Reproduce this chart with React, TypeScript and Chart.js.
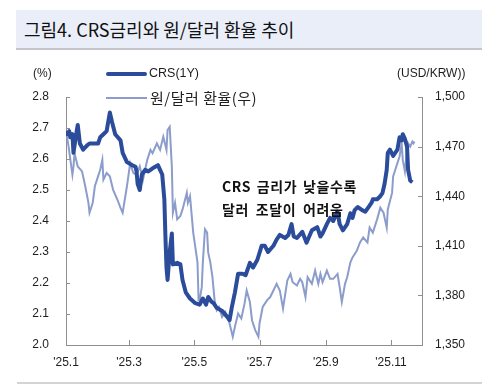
import React, { useEffect, useRef } from "react";
import { Chart, registerables } from "chart.js";
Chart.register(...registerables);

// Day-of-year (2025) for each observation
const crsDays = [
  0, 1, 3, 4, 6, 7, 10, 11, 13, 16,
  20, 22, 26, 30, 32, 35, 38, 41, 43, 46,
  51, 53, 57, 62, 65, 66, 67, 69, 71, 74,
  77, 81, 86, 88, 90, 92, 93, 94, 95, 97,
  99, 100, 104, 107, 109, 112, 116, 121, 125, 128,
  131, 133, 136, 138, 141, 146, 151, 153, 155, 158,
  161, 165, 168, 172, 175, 179, 183, 186, 189, 194,
  197, 200, 205, 208, 211, 213, 216, 221, 225, 230,
  235, 238, 240, 244, 247, 250, 254, 256, 259, 263,
  266, 268, 270, 273, 277, 280, 283, 286, 287, 291,
  294, 296, 298, 300, 301, 303, 306, 310, 311, 312,
  314, 315, 317, 319, 320, 322, 324,
];
const crsRates = [
  2.69, 2.68, 2.69, 2.67, 2.68, 2.62, 2.69, 2.71, 2.65, 2.63,
  2.645, 2.65, 2.65, 2.65, 2.67, 2.68, 2.69, 2.75, 2.72, 2.68,
  2.66, 2.62, 2.59, 2.58, 2.575, 2.56, 2.52, 2.5, 2.55, 2.565,
  2.56, 2.57, 2.58, 2.565, 2.55, 2.47, 2.35, 2.25, 2.21, 2.3,
  2.36, 2.26, 2.265, 2.26, 2.21, 2.17, 2.15, 2.135, 2.13, 2.15,
  2.13, 2.155, 2.14, 2.135, 2.12, 2.11, 2.09, 2.08, 2.12, 2.17,
  2.23, 2.23, 2.225, 2.265, 2.25, 2.275, 2.32, 2.32, 2.3, 2.32,
  2.34, 2.355, 2.345, 2.355, 2.39, 2.35, 2.345, 2.365, 2.33, 2.37,
  2.38, 2.35, 2.36, 2.39, 2.41, 2.4, 2.43, 2.39, 2.37, 2.39,
  2.425, 2.41, 2.435, 2.445, 2.435, 2.43, 2.445, 2.46, 2.47, 2.47,
  2.48, 2.49, 2.52, 2.565, 2.62, 2.63, 2.61, 2.63, 2.65, 2.67,
  2.66, 2.68, 2.665, 2.64, 2.565, 2.53, 2.525,
];

const fxDays = [
  0, 2, 6, 7, 8, 11, 15, 18, 21, 22,
  25, 27, 29, 32, 34, 35, 38, 41, 44, 48,
  51, 53, 57, 60, 63, 66, 69, 72, 76, 79,
  81, 85, 88, 91, 94, 95, 97, 99, 100, 102,
  104, 107, 109, 113, 114, 116, 119, 123, 124, 125,
  127, 128, 130, 132, 133, 135, 137, 139, 141, 143,
  146, 149, 152, 153, 156, 158, 161, 164, 167, 169,
  172, 174, 177, 180, 181, 184, 188, 191, 194, 197,
  200, 203, 207, 210, 212, 216, 219, 221, 224, 226,
  230, 233, 236, 238, 240, 244, 247, 250, 254, 256,
  258, 261, 263, 266, 268, 272, 275, 278, 282, 284,
  287, 291, 294, 297, 300, 301, 305, 306, 308, 310,
  312, 314, 315, 317, 319, 320, 322, 324, 325, 326,
];
const fxRates = [
  1479, 1472, 1453, 1458, 1466, 1458, 1455, 1446, 1436, 1430,
  1436, 1446, 1450, 1456, 1462, 1450, 1454, 1452, 1444, 1438,
  1433, 1430, 1446, 1460, 1454, 1453, 1458, 1450, 1462, 1468,
  1466, 1472, 1468, 1476, 1468, 1480, 1482, 1458, 1430, 1436,
  1426, 1428, 1432, 1442, 1436, 1440, 1418, 1400, 1377, 1377,
  1385, 1400, 1420, 1418, 1406, 1400, 1391, 1377, 1371, 1373,
  1367, 1370, 1365, 1363, 1355, 1361, 1369, 1366, 1375, 1383,
  1376, 1365, 1359, 1355, 1363, 1373, 1377, 1379, 1383, 1387,
  1383, 1372, 1389, 1393, 1388, 1386, 1390, 1388, 1379, 1391,
  1387, 1395, 1387, 1393, 1388, 1395, 1390, 1390, 1393, 1385,
  1376, 1387, 1391, 1400, 1403, 1407, 1412, 1415, 1412, 1421,
  1418, 1426, 1433, 1430, 1421, 1432, 1442, 1452, 1456, 1460,
  1464, 1472, 1462, 1455, 1468, 1472, 1470, 1473, 1472, 1473,
];

const monthTickDays = [0, 59, 120, 181, 243, 304];
const monthTickLabels = ["'25.1", "'25.3", "'25.5", "'25.7", "'25.9", "'25.11"];

const seriesNames = ["CRS(1Y)", "원/달러 환율(우)"];

const CRS_COLOR = "#2B4C9B";
const FX_COLOR = "#8C9DCB";
const AXIS_COLOR = "#8E8E8E";
const TEXT_COLOR = "#1E1E1E";
const LATIN = '"Liberation Sans", Arial, sans-serif';
const KOREAN = '"Noto Sans CJK KR", "Noto Sans", sans-serif';

export default function App() {
  const ref = useRef<HTMLCanvasElement | null>(null);

  useEffect(() => {
    if (!ref.current) return;
    const inwardTicks = {
      id: "inwardTicks",
      afterDraw(chart: any) {
        const ctx = chart.ctx;
        const { left, right, bottom } = chart.chartArea;
        ctx.save();
        ctx.strokeStyle = AXIS_COLOR;
        ctx.lineWidth = 1;
        ctx.beginPath();
        const ys = chart.scales.y;
        ys.ticks.forEach((t: any) => {
          const py = Math.round(ys.getPixelForValue(t.value)) + 0.5;
          ctx.moveTo(left, py);
          ctx.lineTo(left + 4, py);
        });
        const y1 = chart.scales.y1;
        y1.ticks.forEach((t: any) => {
          const py = Math.round(y1.getPixelForValue(t.value)) + 0.5;
          ctx.moveTo(right, py);
          ctx.lineTo(right - 4, py);
        });
        const xs = chart.scales.x;
        xs.ticks.forEach((t: any) => {
          const px = Math.round(xs.getPixelForValue(t.value)) + 0.5;
          ctx.moveTo(px, bottom);
          ctx.lineTo(px, bottom - 5);
        });
        ctx.stroke();
        ctx.restore();
      },
    };

    const chart = new Chart(ref.current, {
      type: "line",
      data: {
        datasets: [
          {
            label: seriesNames[0],
            data: crsDays.map((d, i) => ({ x: d, y: crsRates[i] })),
            yAxisID: "y",
            borderColor: CRS_COLOR,
            borderWidth: 4,
            pointRadius: 0,
            tension: 0,
            borderJoinStyle: "round",
          },
          {
            label: seriesNames[1],
            data: fxDays.map((d, i) => ({ x: d, y: fxRates[i] })),
            yAxisID: "y1",
            borderColor: FX_COLOR,
            borderWidth: 2,
            pointRadius: 0,
            tension: 0,
          },
        ],
      },
      options: {
        responsive: false,
        animation: false,
        events: [],
        layout: { padding: { top: 97, left: 0, right: 0, bottom: 0 } },
        plugins: { legend: { display: false }, title: { display: false }, tooltip: { enabled: false } },
        scales: {
          x: {
            type: "linear",
            min: 0,
            max: 333,
            afterFit: (s: any) => { s.height = 45; },
            afterBuildTicks: (s: any) => { s.ticks = monthTickDays.map((v) => ({ value: v })); },
            grid: { drawOnChartArea: false, drawTicks: false },
            border: { display: true, color: AXIS_COLOR, width: 1 },
            ticks: {
              autoSkip: false,
              maxRotation: 0,
              padding: 10,
              color: TEXT_COLOR,
              font: { family: LATIN, size: 12 },
              callback: (v: any) => {
                const i = monthTickDays.indexOf(Number(v));
                return i >= 0 ? monthTickLabels[i] : "";
              },
            },
          },
          y: {
            position: "left",
            min: 2.0,
            max: 2.8,
            afterFit: (s: any) => { s.width = 66; },
            grid: { drawOnChartArea: false, drawTicks: false },
            border: { display: true, color: AXIS_COLOR, width: 1 },
            ticks: {
              stepSize: 0.1,
              padding: 17,
              color: TEXT_COLOR,
              font: { family: LATIN, size: 12 },
              callback: (v: any) => Number(v).toFixed(1),
            },
          },
          y1: {
            position: "right",
            min: 1350,
            max: 1500,
            afterFit: (s: any) => { s.width = 78; },
            grid: { drawOnChartArea: false, drawTicks: false },
            border: { display: true, color: AXIS_COLOR, width: 1 },
            ticks: {
              stepSize: 30,
              padding: 13,
              color: TEXT_COLOR,
              font: { family: LATIN, size: 12 },
              callback: (v: any) => Number(v).toLocaleString("en-US"),
            },
          },
        },
      },
      plugins: [inwardTicks],
    } as any);
    return () => chart.destroy();
  }, []);

  const abs = (extra: React.CSSProperties): React.CSSProperties => ({
    position: "absolute",
    whiteSpace: "nowrap",
    lineHeight: 1,
    ...extra,
  });

  return (
    <div style={{ position: "absolute", left: 0, top: 0, width: 500, height: 390, background: "#fff", overflow: "hidden" }}>
      <div style={abs({ left: 16, top: 10, width: 466, height: 38, background: "#EAEEF8", borderBottom: "2px solid #C4C6CC" })} />
      <div style={abs({ left: 24, top: 20, fontFamily: KOREAN, fontSize: 18, color: "#111" })}>
        그림4. CRS금리와 원/달러 환율 추이
      </div>
      <canvas ref={ref} width={500} height={390} style={{ position: "absolute", left: 0, top: 0 }} />
      <div style={abs({ left: 33, top: 67, fontFamily: LATIN, fontSize: 12, color: TEXT_COLOR })}>(%)</div>
      <div style={abs({ left: 397, top: 67, fontFamily: LATIN, fontSize: 12, color: TEXT_COLOR })}>(USD/KRW))</div>
      <div style={abs({ left: 106, top: 72, width: 41, height: 4, borderRadius: 2, background: CRS_COLOR })} />
      <div style={abs({ left: 149, top: 67, fontFamily: LATIN, fontSize: 12.5, color: TEXT_COLOR })}>{seriesNames[0]}</div>
      <div style={abs({ left: 106, top: 97, width: 41, height: 2, background: FX_COLOR })} />
      <div style={abs({ left: 150, top: 90, fontFamily: KOREAN, fontSize: 15, letterSpacing: 0.5, color: TEXT_COLOR })}>{seriesNames[1]}</div>
      <div style={abs({ left: 222, top: 179, fontFamily: KOREAN, fontSize: 14, fontWeight: 700, color: "#111", letterSpacing: 0.6, wordSpacing: 2 })}>
        CRS 금리가 낮을수록
      </div>
      <div style={abs({ left: 222, top: 202, fontFamily: KOREAN, fontSize: 14, fontWeight: 700, color: "#111", letterSpacing: 0.6, wordSpacing: 3 })}>
        달러 조달이 어려움
      </div>
      <div style={abs({ left: 17, top: 382, width: 465, height: 2, background: "#D4D4D4" })} />
    </div>
  );
}
